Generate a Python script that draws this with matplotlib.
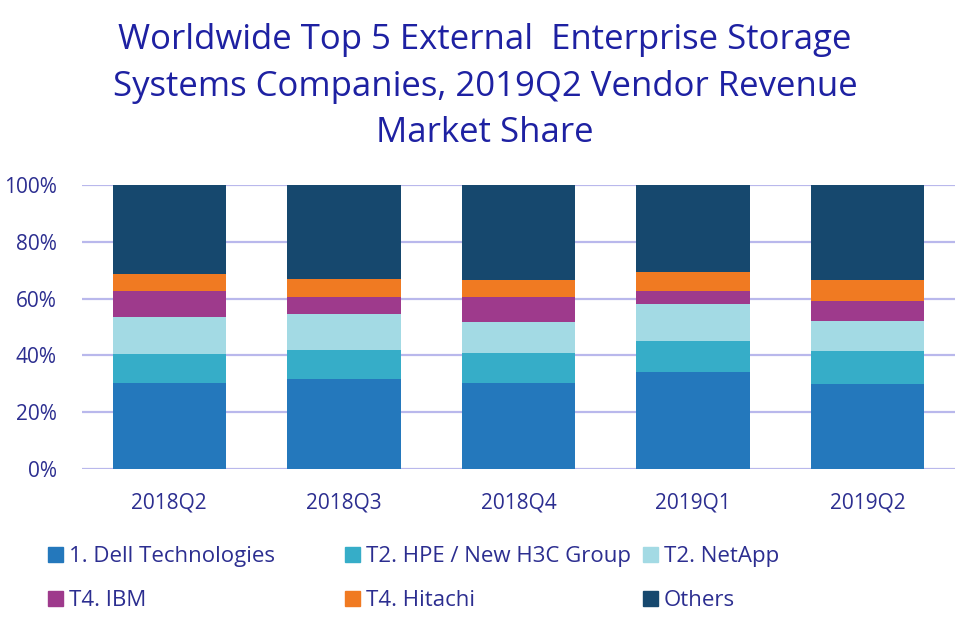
import matplotlib
matplotlib.use("Agg")
import matplotlib.pyplot as plt
from matplotlib.patches import Rectangle
import numpy as np

quarters = ["2018Q2", "2018Q3", "2018Q4", "2019Q1", "2019Q2"]
dell = [30.2, 31.8, 30.2, 34.0, 29.8]
hpe = [10.2, 10.2, 10.6, 11.0, 11.7]
netapp = [13.1, 12.7, 10.8, 13.1, 10.6]
ibm = [9.2, 5.9, 9.0, 4.7, 7.2]
hitachi = [6.0, 6.4, 5.9, 6.7, 7.2]
others = [31.3, 33.0, 33.5, 30.5, 33.5]

series_names = ["1. Dell Technologies", "T2. HPE / New H3C Group", "T2. NetApp",
                "T4. IBM", "T4. Hitachi", "Others"]
series_vals = [dell, hpe, netapp, ibm, hitachi, others]
colors = ["#2478BC", "#36ADC8", "#A3DAE4", "#9E3A8C", "#F07A22", "#16486E"]

plt.rcParams['font.family'] = ['Open Sans', 'DejaVu Sans']
text_col = "#2C2E90"
title_col = "#1E21A2"

W, H = 975, 628
fig = plt.figure(figsize=(W/100, H/100), dpi=100)
ax = fig.add_axes([82/W, 1-469/H, (955-82)/W, (469-185)/H])

x = np.arange(len(quarters))
bottom = np.zeros(len(quarters))
for name, vals, c in zip(series_names, series_vals, colors):
    ax.bar(x, vals, bottom=bottom, width=0.65, color=c, label=name, zorder=3)
    bottom += np.array(vals)

ax.set_xlim(-0.5, 4.5)
ax.set_ylim(0, 100)
ax.set_yticks([0, 20, 40, 60, 80, 100])
ax.set_yticklabels([f"{v}%" for v in [0, 20, 40, 60, 80, 100]])
ax.set_xticks(x)
ax.set_xticklabels(quarters)
ax.grid(axis='y', color="#B9B8EC", linewidth=1.6, zorder=0)
ax.set_axisbelow(True)
for s in ax.spines.values():
    s.set_visible(False)
ax.tick_params(axis='both', length=0, labelsize=15, colors=text_col)
ax.tick_params(axis='x', pad=17)
ax.tick_params(axis='y', pad=18)

title_lines = ["Worldwide Top 5 External  Enterprise Storage",
               "Systems Companies, 2019Q2 Vendor Revenue",
               "Market Share"]
for line, yb in zip(title_lines, [49, 96, 142]):
    fig.text(485/W, 1-yb/H, line, ha='center', va='baseline',
             fontsize=25, color=title_col)

# legend (row-major, fixed column positions)
col_x = [48, 345, 643]
row_y = [554, 598]
sq = 15
for i, (name, c) in enumerate(zip(series_names, colors)):
    r, k = divmod(i, 3)
    cx, cy = col_x[k], row_y[r]
    fig.patches.append(Rectangle((cx/W, 1-(cy+sq/2)/H), sq/W, sq/H,
                                 transform=fig.transFigure, color=c, figure=fig))
    fig.text((cx+sq+6)/W, 1-cy/H, name, ha='left', va='center_baseline',
             fontsize=16, color=text_col)

fig.savefig("out.png", dpi=100)
